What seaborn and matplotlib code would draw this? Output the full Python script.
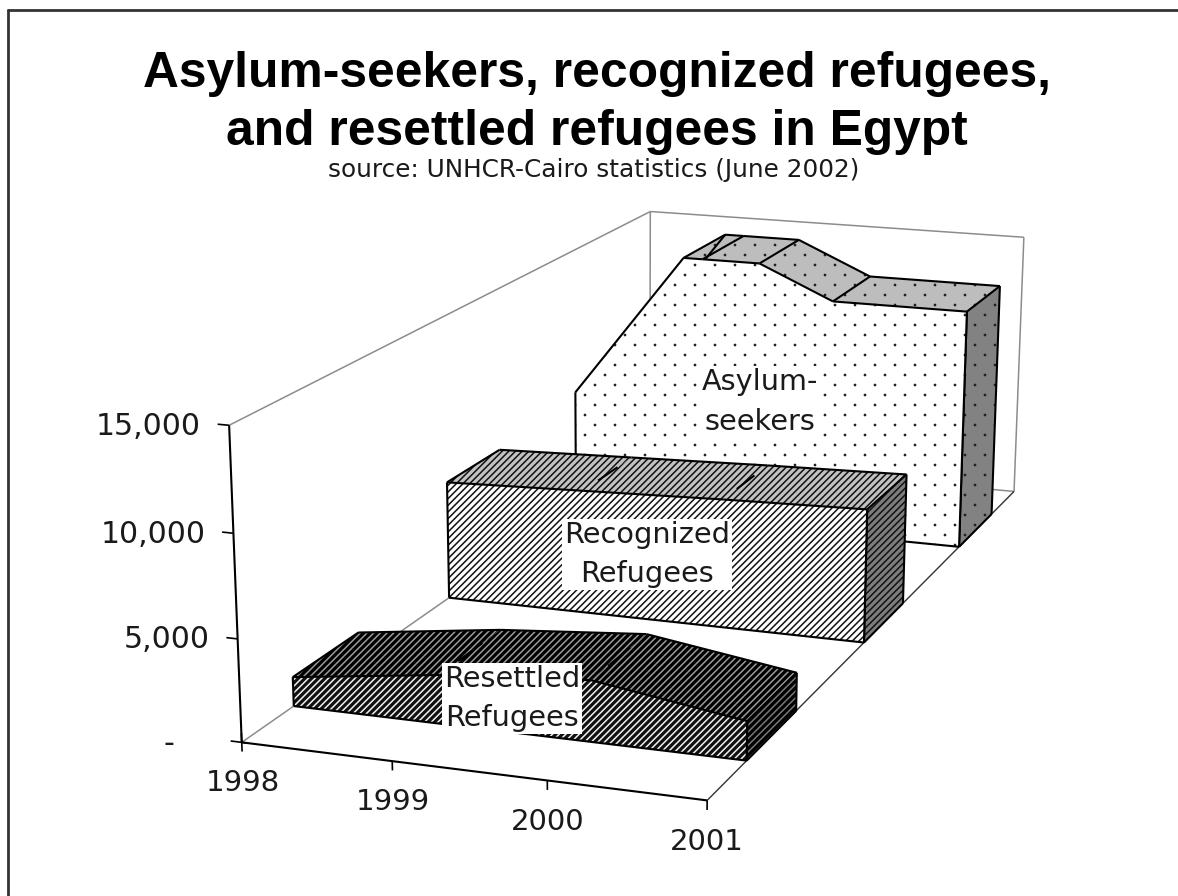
import numpy as np
import matplotlib
matplotlib.use("Agg")
import matplotlib.pyplot as plt
import matplotlib.hatch as mhatch
from matplotlib.lines import Line2D
from matplotlib.path import Path
from mpl_toolkits.mplot3d.art3d import Poly3DCollection, Line3DCollection
import seaborn as sns

# ---- data ----
years = [1998, 1999, 2000, 2001]
asylum_seekers = [6860, 16400, 13200, 13200]
recognized_refugees = [6250, 6500, 6750, 6950]
resettled_refugees = [1450, 2400, 3000, 1900]
value_ticks = [0, 5000, 10000, 15000]
value_tick_labels = ["-", "5,000", "10,000", "15,000"]
title_text = "Asylum-seekers, recognized refugees,\nand resettled refugees in Egypt"
source_text = "source: UNHCR-Cairo statistics (June 2002)"

W, H = 1178, 896
Z_MAX = value_ticks[-1]
X0, X1 = years[0], years[-1]

sns.set_theme(style="white")
plt.rcParams["font.family"] = ["DejaVu Sans"]
plt.rcParams["hatch.linewidth"] = 1.1


class SparseDots(mhatch.HatchPatternBase):
    """The old chart's sparse staggered dot screen, used for the '.' hatch."""
    def __init__(self, hatch, density):
        circle = Path.unit_circle()
        self.cv, self.cc = circle.vertices, circle.codes
        self.centers = []
        if "." in hatch:
            self.centers = [(j / 5 + (i % 2) * 0.1 + 0.05, i / 10 + 0.05) for i in range(10) for j in range(5)]
        self.num_vertices = len(self.centers) * len(self.cv)

    def set_vertices_and_codes(self, vertices, codes):
        n = len(self.cv)
        for k, (cx, cy) in enumerate(self.centers):
            vertices[k * n:(k + 1) * n] = self.cv * 0.006 + (cx, cy)
            codes[k * n:(k + 1) * n] = self.cc


mhatch._hatch_types[mhatch._hatch_types.index(mhatch.SmallFilledCircles)] = SparseDots

fig = plt.figure(figsize=(W / 100, H / 100), dpi=100, facecolor="white")
ax = fig.add_subplot(projection="3d", computed_zorder=False)
ax.set_position([0, 0, 1, 1])
ax.apply_aspect = lambda *a, **k: None
ax.set_axis_off()
ax.patch.set_visible(False)
ax.set_xlim(X0, X1); ax.set_ylim(0, 1); ax.set_zlim(0, Z_MAX)
ax.set_autoscale_on(False)

# Camera: the old chart's oblique box, solved from where its corners sit on the page
box_corners = [(0, 0, 0), (1, 0, 0), (1, 1, 0), (0, 1, 0), (0, 0, 1), (0, 1, 1), (1, 1, 1)]
page_corners = [(243, 743), (707, 800), (1015, 492), (648, 457), (228, 425), (652, 212), (1023, 237)]
rows = []
for (u, v, w), (px, py) in zip(box_corners, page_corners):
    rows.append([u, v, w, 1, 0, 0, 0, 0, -px * u, -px * v, -px * w, -px])
    rows.append([0, 0, 0, 0, u, v, w, 1, -py * u, -py * v, -py * w, -py])
cam = np.linalg.svd(np.array(rows, float))[2][-1].reshape(3, 4)
norm = np.array([[1 / (X1 - X0), 0, 0, -X0 / (X1 - X0)], [0, 1, 0, 0], [0, 0, 1 / Z_MAX, 0], [0, 0, 0, 1]])
cam = cam @ norm
cam = cam / (cam[2] @ np.array([X0, 0, 0, 1]))


def page_proj():
    (x0, x1), (y0, y1) = ax._viewLim.intervalx, ax._viewLim.intervaly
    r0 = (x1 - x0) / W * cam[0] + x0 * cam[2]
    r1 = -(y1 - y0) / H * cam[1] + y1 * cam[2]
    return np.vstack([r0, r1, [0, 0, 0, 1], cam[2]])


ax.get_proj = page_proj


def clip_top(xs, zs, top):
    """Insert the points where a series leaves the box, as the original chart truncates it."""
    ox, oz = [xs[0]], [min(zs[0], top)]
    for i in range(len(xs) - 1):
        a, b = zs[i], zs[i + 1]
        if (a - top) * (b - top) < 0:
            ox.append(xs[i] + (top - a) / (b - a) * (xs[i + 1] - xs[i]))
            oz.append(top)
        ox.append(xs[i + 1]); oz.append(min(b, top))
    return ox, oz


def segs(segments, color="black", lw=1.5, z=1):
    ax.add_collection3d(Line3DCollection(segments, colors=[color], linewidths=lw, zorder=z))


def face(verts, fc, hatch, hc, z):
    ax.add_collection3d(Poly3DCollection([verts], facecolors=[fc], edgecolors=[hc], linewidths=0, hatch=hatch, zorder=z))


def closed(verts):
    return [[verts[i], verts[(i + 1) % len(verts)]] for i in range(len(verts))]


def ribbon(values, y0, y1, z, front, top, side, hatch, hc_front, hc_top, hc_side, ridge):
    xs, zs = clip_top(years, values, Z_MAX)
    n = len(xs)
    top_edges = []
    for i in range(n - 1):
        face([(xs[i], y0, zs[i]), (xs[i + 1], y0, zs[i + 1]), (xs[i + 1], y1, zs[i + 1]), (xs[i], y1, zs[i])],
             top, hatch, hc_top, z + 0.2)
        top_edges.append([(xs[i], y1, zs[i]), (xs[i + 1], y1, zs[i + 1])])
    segs(top_edges + [[(xs[0], y0, zs[0]), (xs[0], y1, zs[0])]], z=z + 0.3)
    ya, yb = y0 + ridge[0] * (y1 - y0), y0 + ridge[1] * (y1 - y0)
    segs([[(a, ya, b), (a, yb, b)] for a, b in zip(xs[1:-1], zs[1:-1])], z=z + 0.3)
    right = [(xs[-1], y0, 0), (xs[-1], y1, 0), (xs[-1], y1, zs[-1]), (xs[-1], y0, zs[-1])]
    face(right, side, hatch, hc_side, z + 0.4)
    segs(closed(right), z=z + 0.5)
    outline = [(xs[0], y0, 0)] + [(a, y0, b) for a, b in zip(xs, zs)] + [(xs[-1], y0, 0)]
    face(outline, front, hatch, hc_front, z + 0.6)
    segs(closed(outline), z=z + 0.7)


# walls and floor
GREY = "#8c8c8c"
segs([[(X0, 0, Z_MAX), (X0, 1, Z_MAX)],
      [(X0, 1, Z_MAX), (X1, 1, Z_MAX)],
      [(X0, 1, 0), (X0, 1, Z_MAX)],
      [(X1, 1, 0), (X1, 1, Z_MAX)],
      [(X0, 1, 0), (X1, 1, 0)],
      [(X0, 0, 0), (X0, 1, 0)]], color=GREY, lw=1.1, z=1)
segs([[(X1, 0, 0), (X1, 1, 0)]], color="#333333", lw=1.0, z=1)

ribbon(asylum_seekers, 0.775, 0.905, 2, "white", "#bdbdbd", "#828282", ".", "#222222", "#222222", "#222222", (0, 1))
ribbon(recognized_refugees, 0.44, 0.57, 4, "white", "#c2c2c2", "#7d7d7d", "/////", "#111111", "#111111", "#111111", (0.3, 0.7))
ribbon(resettled_refugees, 0.10, 0.235, 6, "#111111", "#000000", "#000000", "/////", "#f0f0f0", "#9a9a9a", "#777777", (0.3, 0.7))

# axes in front
segs([[(X0, 0, 0), (X0, 0, Z_MAX)], [(X0, 0, 0), (X1, 0, 0)]], lw=1.5, z=8)
segs([[(X0 - 0.075, 0, v), (X0, 0, v)] for v in value_ticks], lw=1.2, z=8)
segs([[(yr, 0, 0), (yr, 0, -450)] for yr in years] + [[(X0, 0, 0), (X0, 0, 450)], [(X0, 0, 0), (X0 + 0.04, 0, 0)]], lw=1.2, z=8)
for v, lab in zip(value_ticks, value_tick_labels):
    ax.text(X0 - (0.185 if v else 0.46), 0, v - 180 if v else -460, lab, ha="right", va="center",
            fontsize=21.5, color="#1a1a1a", zorder=9)
for yr in years:
    ax.text(yr, 0, -1970, str(yr), ha="center", va="center", fontsize=21, color="#1a1a1a", zorder=9)

# series labels
bb = dict(facecolor="white", edgecolor="none", pad=1.5)
lab_kw = dict(ha="center", va="center", fontsize=20.7, color="#1a1a1a", linespacing=1.52, zorder=9, bbox=bb)
ax.text(1999.3, 0.84, 6300, "Asylum-\nseekers", **lab_kw)
ax.text(1999.29, 0.505, 2360, "Recognized\nRefugees", **lab_kw)
ax.text(1999.27, 0.17, 250, "Resettled\nRefugees", **lab_kw)

fig.text(597 / W, 1 - 103 / H, title_text, ha="center", va="center", fontsize=35.8, fontweight="bold",
         family="Liberation Sans", color="black", linespacing=1.36)
fig.text(594 / W, 1 - 170 / H, source_text, ha="center", va="center", fontsize=17.8, color="#1a1a1a")

# page border: only the top and left sides
fig.add_artist(Line2D([8 / W, 8 / W], [0, 1 - 10 / H], transform=fig.transFigure, color="#333333", lw=2.0))
fig.add_artist(Line2D([8 / W, 1], [1 - 10 / H, 1 - 10 / H], transform=fig.transFigure, color="#333333", lw=2.0))

fig.savefig("out.png", dpi=100)
